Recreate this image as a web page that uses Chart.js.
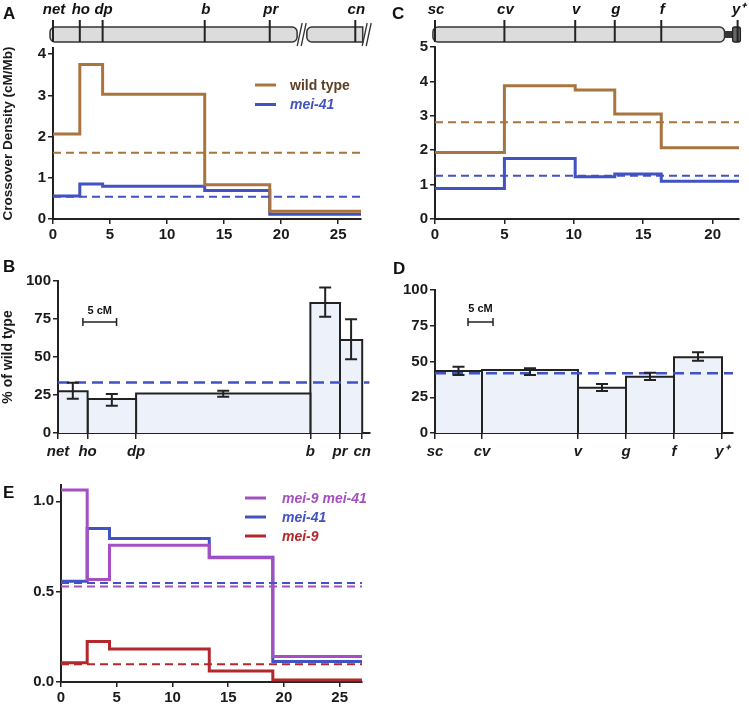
<!DOCTYPE html>
<html><head><meta charset="utf-8"><title>Crossover density</title>
<script src="https://cdn.jsdelivr.net/npm/chart.js@4.4.1/dist/chart.umd.min.js"></script>
<style>
html,body{margin:0;padding:0;background:#fff}
body{position:relative;width:749px;height:705px;overflow:hidden;font-family:"Liberation Sans",Arial,Helvetica,sans-serif}
canvas{position:absolute}
.pl{position:absolute;font-weight:bold;font-size:17px;line-height:17px;color:#111}
</style></head><body>
<canvas id="cA" width="375" height="240" style="left:0;top:0"></canvas>
<canvas id="cB" width="375" height="230" style="left:0;top:240px"></canvas>
<canvas id="cC" width="374" height="240" style="left:375px;top:0"></canvas>
<canvas id="cD" width="374" height="230" style="left:375px;top:240px"></canvas>
<canvas id="cE" width="375" height="235" style="left:0;top:470px"></canvas>
<div class="pl" style="left:3px;top:5px">A</div>
<div class="pl" style="left:3px;top:258px">B</div>
<div class="pl" style="left:392px;top:5px">C</div>
<div class="pl" style="left:393px;top:260px">D</div>
<div class="pl" style="left:3px;top:484px">E</div>
<script>
// ================= DATA =================
// Panel A / E : chromosome 2L, physical positions (Mb)
const aGenes = ['net', 'ho', 'dp', 'b', 'pr', 'cn'];
const aGenePos = [0, 2.35, 4.35, 13.3, 19.0, 26.5];
const aEdges = [0, 2.35, 4.35, 13.3, 19.0, 27];
const wildTypeA = [2.06, 3.75, 3.03, 0.83, 0.19];
const mei41A = [0.557, 0.85, 0.794, 0.69, 0.113];
const wildTypeAMean = 1.61;
const mei41AMean = 0.54;

// Panel B : % of wild type, genetic map (cM)
const bEdges = [0, 4.4, 11.6, 37.5, 41.9, 45.2];
const bPct = [27.5, 22.3, 26.0, 85.5, 61.2];
const bLow = [22.6, 18.0, 23.9, 76.5, 48.5];
const bHigh = [33.1, 25.7, 27.8, 95.8, 74.8];
const bMean = 33.3;

// Panel C : X chromosome (Mb)
const cGenes = ['sc', 'cv', 'v', 'g', 'f', 'y\u207A'];
const cGenePos = [0, 5.0, 10.1, 12.95, 16.3, 21.8];
const cEdges = [0, 5.0, 10.1, 12.95, 16.3, 21.9];
const wildTypeC = [1.93, 3.87, 3.75, 3.05, 2.07];
const mei41C = [0.89, 1.76, 1.23, 1.31, 1.10];
const wildTypeCMean = 2.81;
const mei41CMean = 1.26;

// Panel D : % of wild type, genetic map (cM)
const dEdges = [0, 9.4, 28.6, 38.2, 47.8, 57.4];
const dPct = [43.4, 44.0, 31.7, 39.4, 52.9];
const dLow = [40.6, 40.6, 29.4, 37.1, 50.6];
const dHigh = [46.4, 45.2, 34.3, 42.2, 56.4];
const dMean = 41.7;

// Panel E
const mei9mei41E = [1.063, 0.567, 0.756, 0.687, 0.141];
const mei41E = mei41A;
const mei9E = [0.107, 0.224, 0.183, 0.061, 0.011];
const mei9mei41EMean = 0.529;
const mei41EMean = 0.548;
const mei9EMean = 0.098;

// ================= STYLE =================
const FONT = '"Liberation Sans", Arial, Helvetica, sans-serif';
const AX = '#222', TXT = '#1a1a1a';
const BROWN = '#a8743f', BROWN_TXT = '#5e3f24', BLUE = '#4152c3', PURPLE = '#a64fc3', RED = '#b3282b', FILL = '#edf2fa';
Chart.defaults.font.family = FONT;
Chart.defaults.color = TXT;

// ================= HELPERS =================
function stepPoints(edges, vals) {
  const pts = vals.map((v, i) => ({x: edges[i], y: v}));
  pts.push({x: edges[edges.length - 1], y: vals[vals.length - 1]});
  return pts;
}
function stepDS(label, edges, vals, color) {
  return {label, data: stepPoints(edges, vals), borderColor: color, borderWidth: 3, stepped: true, pointRadius: 0, fill: false};
}
function meanDS(label, x0, x1, y, color, dash, w) {
  return {label, data: [{x: x0, y}, {x: x1, y}], borderColor: color, borderWidth: w, borderDash: dash, pointRadius: 0, fill: false};
}
function barDS(x0, x1, h) {
  return {label: 'bar', data: [{x: x0, y: 0}, {x: x0, y: h}, {x: x1, y: h}, {x: x1, y: 0}],
    borderColor: AX, borderWidth: 2, backgroundColor: FILL, fill: 'origin', pointRadius: 0, tension: 0};
}
function axis(o) {
  const a = {
    type: 'linear', min: o.min, max: o.max,
    border: {display: true, color: AX, width: 2},
    grid: {display: true, drawOnChartArea: false, drawTicks: true, tickLength: o.tickLen || 5, color: AX, lineWidth: 1.5},
    ticks: {font: {size: 15, weight: 'bold', style: o.italic ? 'italic' : 'normal'}, color: TXT,
      padding: o.pad == null ? 2 : o.pad, includeBounds: false, autoSkip: false, maxRotation: 0, minRotation: 0},
    title: {display: false}
  };
  if (o.step) a.ticks.stepSize = o.step;
  if (o.cb) a.ticks.callback = o.cb;
  if (o.title) a.title = {display: true, text: o.title, font: {size: o.titleSize || 14, weight: 'bold'}, color: TXT, padding: {top: 0, bottom: 0}};
  if (o.size) a.afterFit = (s) => { if (s.isHorizontal()) s.height = o.size; else s.width = o.size; };
  if (o.tickValues) a.afterBuildTicks = (s) => { s.ticks = o.tickValues.map(v => ({value: v})); };
  return a;
}
function options(padTop, padRight, x, y) {
  return {
    responsive: false, animation: false, events: [],
    layout: {padding: {left: 0, top: padTop, right: padRight, bottom: 0}},
    plugins: {legend: {display: false}, tooltip: {enabled: false}},
    scales: {x, y}
  };
}

// ---------- plugins ----------
function chromosomePlugin(cfg) {
  return {id: 'chromosome', afterDraw(chart) {
    const ctx = chart.ctx, xs = chart.scales.x, top = chart.chartArea.top;
    const y0 = top + cfg.barTop, y1 = top + cfg.barBottom;
    ctx.save();
    ctx.lineWidth = 1.5; ctx.strokeStyle = '#333'; ctx.fillStyle = '#dcdcdc';
    cfg.segments.forEach(s => {
      const a = xs.getPixelForValue(s[0]), b = xs.getPixelForValue(s[1]);
      ctx.beginPath(); ctx.roundRect(a, y0, b - a, y1 - y0, s[2]); ctx.fill(); ctx.stroke();
    });
    (cfg.breaks || []).forEach(v => {
      const c = xs.getPixelForValue(v);
      ctx.strokeStyle = '#333'; ctx.lineWidth = 1.3;
      [-2, 2].forEach(d => {
        ctx.beginPath(); ctx.moveTo(c + d - 2.5, y1 + 4); ctx.lineTo(c + d + 2.5, y0 - 4); ctx.stroke();
      });
    });
    if (cfg.knob) {
      const k = cfg.knob;
      const a = xs.getPixelForValue(k[0]), b = xs.getPixelForValue(k[1]), c = xs.getPixelForValue(k[2]);
      ctx.fillStyle = '#333';
      ctx.fillRect(a, y0 + 4, b - a, y1 - y0 - 8);
      ctx.fillStyle = '#666'; ctx.strokeStyle = '#222'; ctx.lineWidth = 1.3;
      ctx.beginPath(); ctx.roundRect(b, y0, c - b, y1 - y0, 2); ctx.fill(); ctx.stroke();
    }
    ctx.strokeStyle = AX; ctx.lineWidth = 2;
    ctx.fillStyle = '#111'; ctx.font = 'italic bold 15px ' + FONT; ctx.textAlign = 'center'; ctx.textBaseline = 'middle';
    cfg.genes.forEach((g, i) => {
      const p = xs.getPixelForValue(cfg.pos[i]);
      ctx.beginPath(); ctx.moveTo(p, top + cfg.lineTop); ctx.lineTo(p, y1); ctx.stroke();
      ctx.fillText(g, p + 1, top + cfg.labelY);
    });
    ctx.restore();
  }};
}
function legendPlugin(cfg) {
  return {id: 'customLegend', afterDraw(chart) {
    const ctx = chart.ctx;
    ctx.save();
    cfg.items.forEach((it, i) => {
      const ds = chart.data.datasets[it.ds];
      const y = cfg.ys[i];
      ctx.strokeStyle = ds.borderColor; ctx.lineWidth = 3;
      ctx.beginPath(); ctx.moveTo(cfg.x0, y); ctx.lineTo(cfg.x1, y); ctx.stroke();
      ctx.fillStyle = it.textColor || ds.borderColor;
      ctx.font = (it.italic ? 'italic ' : '') + 'bold 14px ' + FONT;
      ctx.textBaseline = 'middle'; ctx.textAlign = 'left';
      ctx.fillText(ds.label, cfg.tx, y + 1);
    });
    ctx.restore();
  }};
}
function errorBarPlugin(edges, low, high) {
  return {id: 'errorBars', afterDatasetsDraw(chart) {
    const ctx = chart.ctx, xs = chart.scales.x, ys = chart.scales.y;
    ctx.save(); ctx.strokeStyle = AX; ctx.lineWidth = 2;
    low.forEach((lo, i) => {
      const px = xs.getPixelForValue((edges[i] + edges[i + 1]) / 2);
      const a = ys.getPixelForValue(lo), b = ys.getPixelForValue(high[i]);
      ctx.beginPath();
      ctx.moveTo(px, a); ctx.lineTo(px, b);
      ctx.moveTo(px - 6, a); ctx.lineTo(px + 6, a);
      ctx.moveTo(px - 6, b); ctx.lineTo(px + 6, b);
      ctx.stroke();
    });
    ctx.restore();
  }};
}
function scaleBarPlugin(cfg) {
  return {id: 'scaleBar', afterDraw(chart) {
    const ctx = chart.ctx, xs = chart.scales.x, ys = chart.scales.y;
    const a = xs.getPixelForValue(cfg.start), b = xs.getPixelForValue(cfg.start + cfg.len), y = ys.getPixelForValue(cfg.yVal);
    ctx.save(); ctx.strokeStyle = AX; ctx.lineWidth = 1.5;
    ctx.beginPath(); ctx.moveTo(a, y); ctx.lineTo(b, y);
    ctx.moveTo(a, y - 4); ctx.lineTo(a, y + 4); ctx.moveTo(b, y - 4); ctx.lineTo(b, y + 4); ctx.stroke();
    ctx.fillStyle = '#111'; ctx.font = 'bold 11px ' + FONT; ctx.textAlign = 'center'; ctx.textBaseline = 'middle';
    ctx.fillText(cfg.label, (a + b) / 2, y + cfg.labelDy);
    ctx.restore();
  }};
}

// ================= PANEL A =================
new Chart(document.getElementById('cA'), {
  type: 'line',
  data: {datasets: [
    meanDS('wild type mean', 0, 27, wildTypeAMean, BROWN, [8, 5], 2),
    meanDS('mei-41 mean', 0, 27, mei41AMean, BLUE, [8, 5], 2),
    stepDS('wild type', aEdges, wildTypeA, BROWN),
    stepDS('mei-41', aEdges, mei41A, BLUE)
  ]},
  options: options(48, 14,
    axis({min: 0, max: 27, step: 5, size: 21}),
    axis({min: 0, max: 4.15, step: 1, size: 53, title: 'Crossover Density (cM/Mb)', titleSize: 13.5})),
  plugins: [
    chromosomePlugin({genes: aGenes, pos: aGenePos, barTop: -21, barBottom: -6, lineTop: -28, labelY: -38,
      segments: [[-0.26, 21.4, 5], [22.25, 27.15, [5, 0, 0, 5]]], breaks: [21.8, 27.5]}),
    legendPlugin({x0: 255, x1: 276, tx: 290, ys: [85, 104.5],
      items: [{ds: 2, textColor: BROWN_TXT}, {ds: 3, italic: true}]})
  ]
});

// ================= PANEL B =================
new Chart(document.getElementById('cB'), {
  type: 'line',
  data: {datasets: [meanDS('mean', 0, 46.3, bMean, BLUE, [11, 6], 2.5)].concat(
    bPct.map((h, i) => barDS(bEdges[i], bEdges[i + 1], h)))},
  options: options(41, 2,
    axis({min: 0, max: 46.3, size: 37, tickLen: 6, pad: 4, italic: true, tickValues: bEdges, cb: (v, i) => aGenes[i]}),
    axis({min: 0, max: 100, step: 25, size: 58, title: '% of wild type'})),
  plugins: [errorBarPlugin(bEdges, bLow, bHigh),
    scaleBarPlugin({start: 3.7, len: 5, yVal: 73, label: '5 cM', labelDy: -11})]
});

// ================= PANEL C =================
new Chart(document.getElementById('cC'), {
  type: 'line',
  data: {datasets: [
    meanDS('wild type mean', 0, 21.9, wildTypeCMean, BROWN, [8, 5], 2),
    meanDS('mei-41 mean', 0, 21.9, mei41CMean, BLUE, [8, 5], 2),
    stepDS('wild type', cEdges, wildTypeC, BROWN),
    stepDS('mei-41', cEdges, mei41C, BLUE)
  ]},
  options: options(47, 10,
    axis({min: 0, max: 21.9, step: 5, size: 21}),
    axis({min: 0, max: 5, step: 1, size: 60})),
  plugins: [
    chromosomePlugin({genes: cGenes, pos: cGenePos, barTop: -20, barBottom: -5, lineTop: -27, labelY: -37,
      segments: [[-0.15, 20.86, 5]], knob: [20.86, 21.44, 22.0]})
  ]
});

// ================= PANEL D =================
new Chart(document.getElementById('cD'), {
  type: 'line',
  data: {datasets: [meanDS('mean', 0, 59.6, dMean, BLUE, [11, 6], 2.5)].concat(
    dPct.map((h, i) => barDS(dEdges[i], dEdges[i + 1], h)))},
  options: options(50, 16,
    axis({min: 0, max: 59.6, size: 37, tickLen: 6, pad: 4, italic: true, tickValues: dEdges, cb: (v, i) => cGenes[i]}),
    axis({min: 0, max: 100, step: 25, size: 60})),
  plugins: [errorBarPlugin(dEdges, dLow, dHigh),
    scaleBarPlugin({start: 6.6, len: 5, yVal: 77.6, label: '5 cM', labelDy: -13})]
});

// ================= PANEL E =================
new Chart(document.getElementById('cE'), {
  type: 'line',
  data: {datasets: [
    meanDS('mei-9 mei-41 mean', 0, 27, mei9mei41EMean, PURPLE, [8, 5], 2),
    meanDS('mei-41 mean', 0, 27, mei41EMean, BLUE, [8, 5], 2),
    meanDS('mei-9 mean', 0, 27, mei9EMean, RED, [8, 5], 2),
    stepDS('mei-9 mei-41', aEdges, mei9mei41E, PURPLE),
    stepDS('mei-41', aEdges, mei41E, BLUE),
    stepDS('mei-9', aEdges, mei9E, RED)
  ]},
  options: options(15, 13,
    axis({min: 0, max: 27, step: 5, size: 23}),
    axis({min: 0, max: 1.09, step: 0.5, size: 61, cb: (v) => v.toFixed(1)})),
  plugins: [
    legendPlugin({x0: 245, x1: 266, tx: 282, ys: [28, 47, 66],
      items: [{ds: 3, italic: true}, {ds: 4, italic: true}, {ds: 5, italic: true}]})
  ]
});
</script>
</body></html>
